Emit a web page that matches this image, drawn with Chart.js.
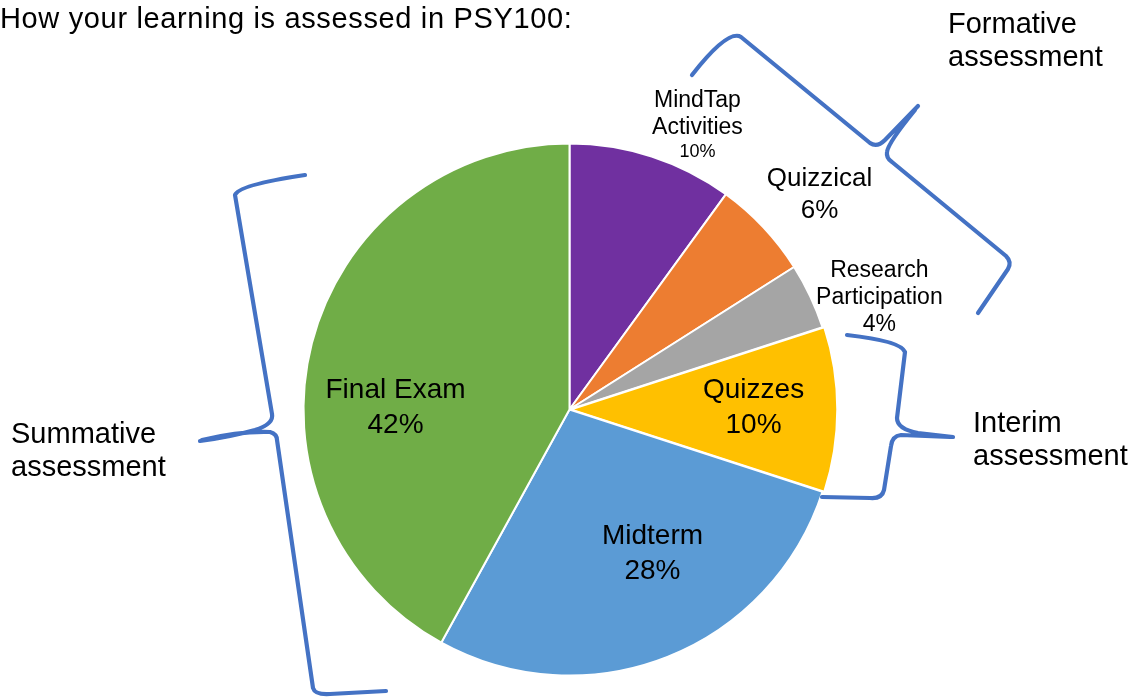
<!DOCTYPE html>
<html>
<head>
<meta charset="utf-8">
<title>How your learning is assessed in PSY100</title>
<script src="https://cdn.jsdelivr.net/npm/chart.js@4.4.1/dist/chart.umd.min.js"></script>
<style>
  html, body { margin: 0; padding: 0; background: #ffffff; overflow: hidden; }
  #chartBox { position: relative; width: 1136px; height: 700px; }
</style>
</head>
<body>
<div id="chartBox">
  <canvas id="assessChart" width="1136" height="700"></canvas>
</div>
<script>
// Chart data
const categories = [['MindTap', 'Activities'], 'Quizzical', ['Research', 'Participation'], 'Quizzes', 'Midterm', 'Final Exam'];
const shares = [10, 6, 4, 10, 28, 42]; // percent of final grade
const sliceColors = ['#7030A0', '#ED7D31', '#A5A5A5', '#FFC000', '#5B9BD5', '#70AD47'];
const sliceOffsets = [0, 0, 0, 5, 0, 0]; // Quizzes slice is pulled out a little

const titleText = 'How your learning is assessed in PSY100:';
const groupNames = [
    ['Formative', 'assessment'],
    ['Interim', 'assessment'],
    ['Summative', 'assessment']
];

const FONT = '"Liberation Sans", Arial, Helvetica, sans-serif';
const BRACE_COLOR = '#4472C4';

// label placement per slice: anchor of the first baseline, as fractions of the pie radius
const labelStyles = [
    { fx: 0.481, fy: -1.139, size: 23, valueSize: 18, gap: 27, valueGap: 23 },
    { fx: 0.940, fy: -0.842, size: 26, valueSize: 26, gap: 32, valueGap: 32 },
    { fx: 1.165, fy: -0.500, size: 23, valueSize: 23, gap: 27, valueGap: 27 },
    { fx: 0.692, fy: -0.045, size: 28, valueSize: 28, gap: 35, valueGap: 35 },
    { fx: 0.312, fy: 0.504, size: 28, valueSize: 28, gap: 35, valueGap: 35 },
    { fx: -0.654, fy: -0.045, size: 28, valueSize: 28, gap: 35, valueGap: 35 }
];

// hand-drawn curly braces grouping the slices (page decoration)
const braces = [
    // formative (top right)
    [['M', 692, 75], ['Q', 728, 29, 741, 37], ['L', 870, 143], ['Q', 877, 148, 885, 140], ['L', 918, 106],
     ['M', 915, 110], ['Q', 888, 143, 887, 152], ['Q', 886, 158, 892, 162], ['L', 1006, 256], ['Q', 1012, 262, 1008, 269], ['L', 978, 313]],
    // interim (right)
    [['M', 847, 335], ['Q', 901, 341, 905, 352], ['L', 897, 418], ['Q', 897, 429, 918, 433], ['L', 953, 437],
     ['M', 950, 437], ['L', 901, 435], ['Q', 892, 436, 891, 446], ['L', 884, 490], ['Q', 882, 499, 870, 498], ['L', 822, 497]],
    // summative (left)
    [['M', 305, 175], ['Q', 238, 185, 235, 195], ['L', 272, 414], ['Q', 274, 424, 255, 430], ['Q', 230, 437, 200, 441],
     ['M', 202, 440], ['Q', 240, 431, 270, 432], ['Q', 277, 434, 277, 440], ['L', 313, 688], ['Q', 315, 695, 330, 694], ['L', 386, 691]]
];

const decorPlugin = {
    id: 'decor',
    afterDraw(chart) {
        const ctx = chart.ctx;
        ctx.save();

        // page title (a touch of tracking to match the wider original)
        ctx.fillStyle = '#000000';
        ctx.textAlign = 'left';
        ctx.textBaseline = 'alphabetic';
        ctx.font = '29px ' + FONT;
        if ('letterSpacing' in ctx) ctx.letterSpacing = '0.65px';
        ctx.fillText(titleText, 0, 28);
        if ('letterSpacing' in ctx) ctx.letterSpacing = '0px';

        // group names beside the braces
        const groupPos = [[948, 33], [973, 432], [11, 443]];
        groupNames.forEach(function(lines, g) {
            lines.forEach(function(line, k) {
                ctx.fillText(line, groupPos[g][0], groupPos[g][1] + k * 33);
            });
        });

        // braces
        ctx.strokeStyle = BRACE_COLOR;
        ctx.lineWidth = 4.2;
        ctx.lineCap = 'round';
        ctx.lineJoin = 'round';
        braces.forEach(function(cmds) {
            ctx.beginPath();
            cmds.forEach(function(c) {
                if (c[0] === 'M') ctx.moveTo(c[1], c[2]);
                else if (c[0] === 'L') ctx.lineTo(c[1], c[2]);
                else ctx.quadraticCurveTo(c[1], c[2], c[3], c[4]);
            });
            ctx.stroke();
        });
        ctx.restore();
    }
};

const sliceLabelPlugin = {
    id: 'sliceLabels',
    afterDatasetsDraw(chart) {
        const ctx = chart.ctx;
        const arcs = chart.getDatasetMeta(0).data;
        const cx = arcs[0].x;
        const cy = arcs[0].y;
        const r = arcs[0].outerRadius;
        ctx.save();
        ctx.fillStyle = '#000000';
        ctx.textAlign = 'center';
        ctx.textBaseline = 'alphabetic';
        chart.data.labels.forEach(function(label, i) {
            const st = labelStyles[i];
            const x = cx + st.fx * r;
            let y = cy + st.fy * r;
            const lines = Array.isArray(label) ? label : [label];
            ctx.font = st.size + 'px ' + FONT;
            lines.forEach(function(line, k) {
                if (k > 0) y += st.gap;
                ctx.fillText(line, x, y);
            });
            y += st.valueGap;
            ctx.font = st.valueSize + 'px ' + FONT;
            ctx.fillText(chart.data.datasets[0].data[i] + '%', x, y);
        });
        ctx.restore();
    }
};

function initializeAssessmentChart() {
    try {
        const ctx = document.getElementById('assessChart').getContext('2d');
        new Chart(ctx, {
            type: 'pie',
            data: {
                labels: categories,
                datasets: [{
                    data: shares,
                    backgroundColor: sliceColors,
                    borderColor: '#ffffff',
                    borderWidth: 2,
                    offset: sliceOffsets,
                    hoverOffset: 0
                }]
            },
            options: {
                responsive: false,
                animation: false,
                events: [],
                layout: {
                    padding: { left: 300, right: 297, top: 140, bottom: 21 }
                },
                plugins: {
                    legend: { display: false },
                    tooltip: { enabled: false },
                    title: { display: false }
                }
            },
            plugins: [sliceLabelPlugin, decorPlugin]
        });
    } catch (error) {
        console.error('Error initializing assessment chart:', error);
    }
}

document.addEventListener('DOMContentLoaded', function() {
    initializeAssessmentChart();
});
</script>
</body>
</html>
